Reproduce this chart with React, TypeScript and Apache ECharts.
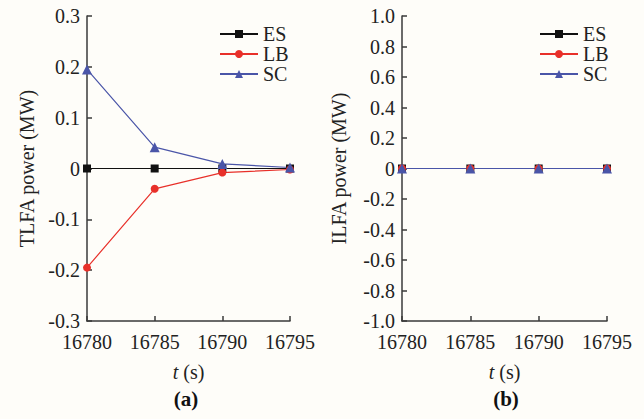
import React, { useEffect, useRef } from "react";
import * as echarts from "echarts";

const times = [16780, 16785, 16790, 16795];
const tlfaES = [0, 0, 0, 0];
const tlfaLB = [-0.195, -0.04, -0.008, -0.002];
const tlfaSC = [0.195, 0.042, 0.009, 0.002];
const ilfaES = [0, 0, 0, 0];
const ilfaLB = [0, 0, 0, 0];
const ilfaSC = [0, 0, 0, 0];
const seriesNames = ["ES", "LB", "SC"];
const panelCaptions = ["(a)", "(b)"];
const yNames = ["TLFA power (MW)", "ILFA power (MW)"];

const FONT = "'Times New Roman', 'Liberation Serif', serif";
const AXIS = "#3a3a3a";
const COLORS = { ES: "#111111", LB: "#e8302a", SC: "#4a55a8" };
const SYMBOLS = { ES: "rect", LB: "circle", SC: "triangle" };
const FS = 20;

export default function App() {
  const ref = useRef<HTMLDivElement>(null);
  useEffect(() => {
    if (!ref.current) return;
    const chart = echarts.init(ref.current, null, { renderer: "svg" });
    const pair = (ys: number[]) => times.map((t, i) => [t, ys[i]]);
    const fmt = (v: number) => (Math.abs(v) < 1e-9 ? "0" : v.toFixed(1));
    const xAxisBase = (gi: number) => ({
      type: "value",
      gridIndex: gi,
      min: 16780,
      max: 16795,
      interval: 5,
      axisLine: { show: true, onZero: false, lineStyle: { color: AXIS, width: 1.5 } },
      axisTick: { show: true, inside: true, length: 5, lineStyle: { color: AXIS, width: 1.5 } },
      axisLabel: { color: "#222", fontFamily: FONT, fontSize: FS, margin: 11, formatter: (v: number) => String(v) },
      splitLine: { show: false },
      name: "{i|t} (s)",
      nameLocation: "middle",
      nameGap: 41,
      nameTextStyle: {
        color: "#222",
        fontFamily: FONT,
        fontSize: FS,
        rich: { i: { fontStyle: "italic", fontFamily: FONT, fontSize: FS, color: "#222" } },
      },
    });
    const yAxisBase = (gi: number, min: number, max: number, interval: number, gap: number) => ({
      type: "value",
      gridIndex: gi,
      min,
      max,
      interval,
      axisLine: { show: true, onZero: false, lineStyle: { color: AXIS, width: 1.5 } },
      axisTick: { show: true, inside: true, length: 5, lineStyle: { color: AXIS, width: 1.5 } },
      axisLabel: { color: "#222", fontFamily: FONT, fontSize: FS, margin: 7, formatter: fmt },
      splitLine: { show: false },
      name: yNames[gi],
      nameLocation: "middle",
      nameGap: gap,
      nameTextStyle: { color: "#222", fontFamily: FONT, fontSize: FS },
    });
    const mk = (name: string, data: number[], gi: number) => ({
      name,
      type: "line",
      xAxisIndex: gi,
      yAxisIndex: gi,
      data: pair(data),
      symbol: (SYMBOLS as any)[name],
      symbolSize: name === "SC" ? 10 : 8,
      lineStyle: { color: (COLORS as any)[name], width: 1.2 },
      itemStyle: { color: (COLORS as any)[name] },
    });
    const legendBase = (left: number) => ({
      data: seriesNames,
      orient: "vertical",
      left,
      top: 19,
      itemGap: 0,
      itemWidth: 38,
      itemHeight: 10,
      textStyle: { fontFamily: FONT, fontSize: FS, color: "#222" },
    });
    chart.setOption({
      animation: false,
      backgroundColor: "#fefdf9",
      grid: [
        { left: 87, top: 16, width: 203, height: 305 },
        { left: 402, top: 16, width: 205, height: 305 },
      ],
      xAxis: [xAxisBase(0), xAxisBase(1)],
      yAxis: [yAxisBase(0, -0.3, 0.3, 0.1, 50), yAxisBase(1, -1, 1, 0.2, 53)],
      legend: [legendBase(214), legendBase(534)],
      series: [
        mk("ES", tlfaES, 0),
        mk("LB", tlfaLB, 0),
        mk("SC", tlfaSC, 0),
        mk("ES", ilfaES, 1),
        mk("LB", ilfaLB, 1),
        mk("SC", ilfaSC, 1),
      ],
      graphic: [
        {
          type: "text",
          x: 186,
          y: 399,
          style: { text: panelCaptions[0], fontFamily: FONT, fontSize: 21, fontWeight: "bold", fill: "#111", align: "center", verticalAlign: "middle" },
        },
        {
          type: "text",
          x: 506,
          y: 399,
          style: { text: panelCaptions[1], fontFamily: FONT, fontSize: 21, fontWeight: "bold", fill: "#111", align: "center", verticalAlign: "middle" },
        },
      ],
    });
    return () => chart.dispose();
  }, []);
  return <div ref={ref} style={{ position: "fixed", left: 0, top: 0, width: 644, height: 419 }} />;
}
